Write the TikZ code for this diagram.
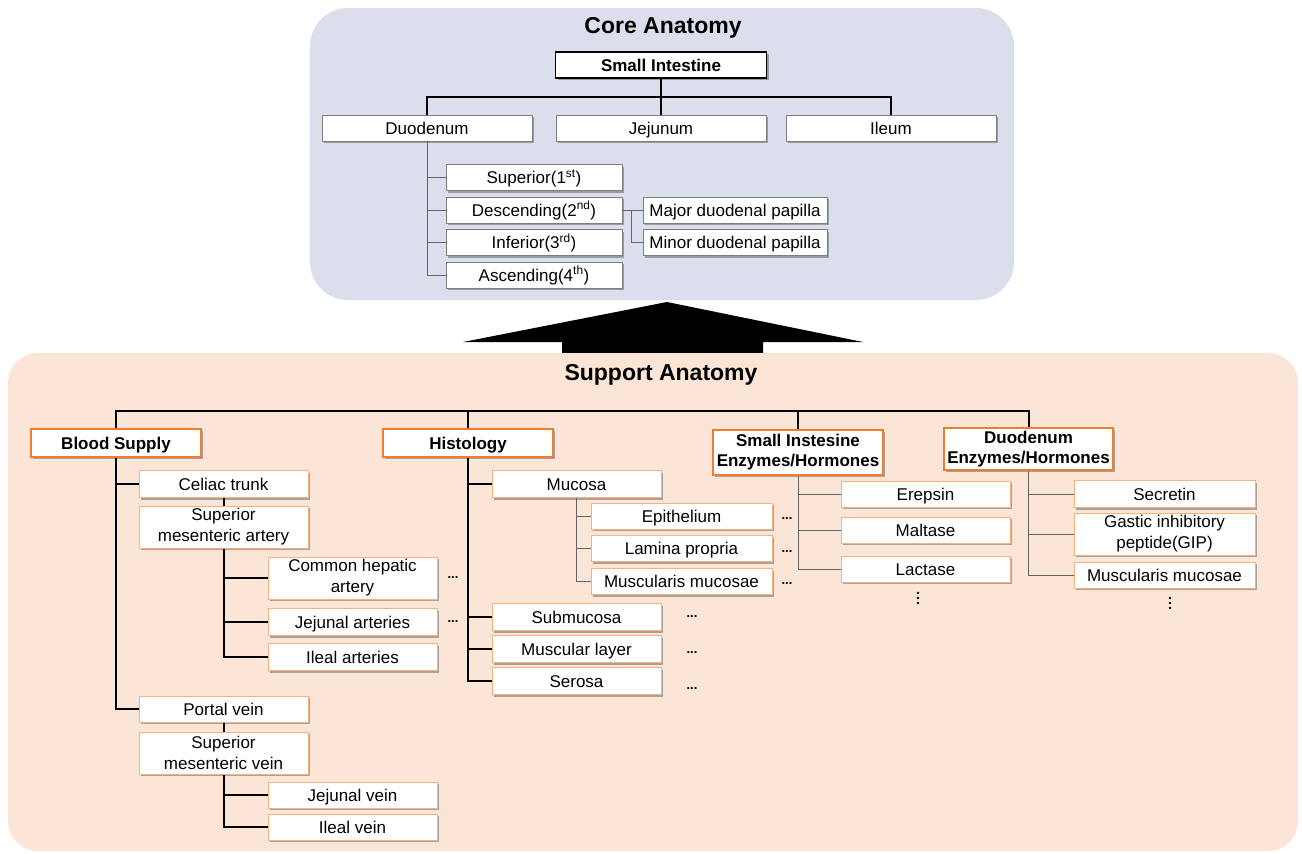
\documentclass[tikz,border=0pt]{standalone}
\usepackage{fontspec}
\setmainfont{Liberation Sans}
\usetikzlibrary{shadows,calc}
\definecolor{corebg}{RGB}{218,223,235}
\definecolor{suppbg}{RGB}{251,229,214}
\definecolor{hdrorange}{RGB}{237,125,49}
\definecolor{lightorange}{RGB}{244,177,131}
\definecolor{boxgray}{RGB}{127,127,127}
\definecolor{thingray}{RGB}{100,100,100}
\begin{document}
\begin{tikzpicture}[x=1pt,y=-1pt,
  every node/.style={font=\fontsize{17}{21}\selectfont, inner sep=0pt, align=center},
  shad/.style={drop shadow={shadow xshift=2pt,shadow yshift=-2pt,fill=black,opacity=0.3}},
  oneline/.style={text height=12.5pt, text depth=0.5pt},
  twoline/.style={text height=, text depth=},
  cbox/.style={draw=boxgray, line width=0.8pt, fill=white, shad, minimum height=26, oneline},
  sibox/.style={draw=black, line width=1.6pt, fill=white, shad, oneline, font=\bfseries\fontsize{17}{21}\selectfont},
  hbox/.style={draw=hdrorange, line width=2pt, fill=white, shad, font=\bfseries\fontsize{17}{20}\selectfont},
  obox/.style={draw=lightorange, line width=1pt, fill=white, shad, minimum height=27, oneline},
  titlefont/.style={font=\bfseries\fontsize{23}{26}\selectfont},
  mainln/.style={line width=2pt, black},
  subln/.style={line width=0.9pt, thingray},
  dotsn/.style={font=\bfseries\fontsize{13}{13}\selectfont},
  vd/.style={fill=black}
]
\useasboundingbox (0,0) rectangle (1302,854);
\fill[white] (0,0) rectangle (1302,854);

% ---------- Core anatomy ----------
\fill[corebg, rounded corners=38] (310,8) rectangle (1014,300);
\node[titlefont] (coret) at (663,28) {Core Anatomy};
\node[sibox, minimum width=211, minimum height=26] (si) at (661,65) {Small Intestine};
\node[cbox, minimum width=210] (duo) at (427,128) {Duodenum};
\node[cbox, minimum width=210] (jej) at (661,128) {Jejunum};
\node[cbox, minimum width=210] (ile) at (891,128) {Ileum};
\node[cbox, minimum width=176] (sup) at (534,177.5) {Superior(1\textsuperscript{st})};
\node[cbox, minimum width=176] (desc) at (534,210) {Descending(2\textsuperscript{nd})};
\node[cbox, minimum width=176] (inf) at (534,242.5) {Inferior(3\textsuperscript{rd})};
\node[cbox, minimum width=176] (asc) at (534,275) {Ascending(4\textsuperscript{th})};
\node[cbox, minimum width=184] (maj) at (735,210) {Major duodenal papilla};
\node[cbox, minimum width=184] (min) at (735,242.5) {Minor duodenal papilla};

\coordinate (tb) at (0,97);
\draw[mainln] (si.south) -- (jej.north);
\draw[mainln] (duo.north) |- (ile.north |- tb) -- (ile.north);
\draw[subln] (duo.south) |- (asc.west);
\draw[subln] (sup.west) -- (sup.west -| duo.south);
\draw[subln] (desc.west) -- (desc.west -| duo.south);
\draw[subln] (inf.west) -- (inf.west -| duo.south);
\draw[subln] (desc.east) -- (maj.west);
\draw[subln] ($(desc.east)!0.45!(maj.west)$) |- (min.west);

% ---------- Arrow ----------
\fill[black] (667,302) -- (863,342) -- (763,342) -- (763,354) -- (562,354) -- (562,342) -- (463,342) -- cycle;

% ---------- Support anatomy ----------
\fill[suppbg, rounded corners=30] (8,353) rectangle (1298,851);
\node[titlefont] (supt) at (661,375) {Support Anatomy};

\node[hbox, minimum width=170, minimum height=28, oneline] (bs) at (116,443) {Blood Supply};
\node[hbox, minimum width=170, minimum height=28, oneline] (hist) at (468,443) {Histology};
\node[hbox, minimum width=170, minimum height=45] (sie) at (798,452) {Small Instesine\\Enzymes/Hormones};
\node[hbox, minimum width=169, minimum height=42] (de) at (1028.5,449) {Duodenum\\Enzymes/Hormones};

\coordinate (bb) at (0,411);
\draw[mainln] (bs.north) |- (de.north |- bb) -- (de.north);
\draw[mainln] (hist.north) -- (hist.north |- bb);
\draw[mainln] (sie.north) -- (sie.north |- bb);

% Blood supply
\node[obox, minimum width=169] (cel) at (223.5,484) {Celiac trunk};
\node[obox, twoline, minimum width=169, minimum height=42] (sma) at (223.5,527) {Superior\\mesenteric artery};
\node[obox, twoline, minimum width=169, minimum height=42] (cha) at (352.5,578) {Common hepatic\\artery};
\node[obox, minimum width=169] (jeja) at (352.5,622) {Jejunal arteries};
\node[obox, minimum width=169] (ilea) at (352.5,657) {Ileal arteries};
\node[obox, minimum width=169, minimum height=26] (pv) at (223.5,709) {Portal vein};
\node[obox, twoline, minimum width=169, minimum height=42] (smv) at (223.5,753) {Superior\\mesenteric vein};
\node[obox, minimum width=169, minimum height=26] (jejv) at (352.5,795) {Jejunal vein};
\node[obox, minimum width=169, minimum height=26] (ilev) at (352.5,827) {Ileal vein};
\node[dotsn] (d1) at (453,578) {...};
\node[dotsn] (d2) at (453,622) {...};

\draw[mainln] (bs.south) |- (pv.west);
\draw[mainln] (cel.west) -- (cel.west -| bs.south);
\draw[mainln] (cel.south) -- (sma.north);
\draw[mainln] (sma.south) |- (ilea.west);
\draw[mainln] (cha.west) -- (cha.west -| sma.south);
\draw[mainln] (jeja.west) -- (jeja.west -| sma.south);
\draw[mainln] (pv.south) -- (smv.north);
\draw[mainln] (smv.south) |- (ilev.west);
\draw[mainln] (jejv.west) -- (jejv.west -| smv.south);

% Histology
\node[obox, minimum width=169] (muc) at (576.5,484) {Mucosa};
\node[obox, minimum width=181, minimum height=26] (epi) at (681.5,516) {Epithelium};
\node[obox, minimum width=181, minimum height=26] (lam) at (681.5,548.5) {Lamina propria};
\node[obox, minimum width=181, minimum height=26] (mm) at (681.5,581.5) {Muscularis mucosae};
\node[obox, minimum width=169] (subm) at (576.5,617) {Submucosa};
\node[obox, minimum width=169] (musl) at (576.5,649) {Muscular layer};
\node[obox, minimum width=169] (ser) at (576.5,681) {Serosa};
\node[dotsn] (d3) at (787,519) {...};
\node[dotsn] (d4) at (787,552) {...};
\node[dotsn] (d5) at (787,584) {...};
\node[dotsn] (d6) at (692,617) {...};
\node[dotsn] (d7) at (692,653) {...};
\node[dotsn] (d8) at (692,689) {...};

\draw[mainln] (hist.south) |- (ser.west);
\draw[mainln] (muc.west) -- (muc.west -| hist.south);
\draw[mainln] (subm.west) -- (subm.west -| hist.south);
\draw[mainln] (musl.west) -- (musl.west -| hist.south);
\draw[subln] (muc.south) |- (mm.west);
\draw[subln] (epi.west) -- (epi.west -| muc.south);
\draw[subln] (lam.west) -- (lam.west -| muc.south);

% Small intestine enzymes
\node[obox, minimum width=169, minimum height=26] (ere) at (925.5,494) {Erepsin};
\node[obox, minimum width=169, minimum height=26] (mal) at (925.5,530) {Maltase};
\node[obox, minimum width=169, minimum height=26] (lac) at (925.5,569) {Lactase};
\fill[vd] (918,593) circle (1.3) (918,598) circle (1.3) (918,603) circle (1.3);
\draw[subln] (sie.south) |- (lac.west);
\draw[subln] (ere.west) -- (ere.west -| sie.south);
\draw[subln] (mal.west) -- (mal.west -| sie.south);

% Duodenum enzymes
\node[obox, minimum width=181] (sec) at (1164.5,494) {Secretin};
\node[obox, twoline, minimum width=181, minimum height=42] (gip) at (1164.5,534) {Gastic inhibitory\\peptide(GIP)};
\node[obox, minimum width=181, minimum height=26] (mm2) at (1164.5,575) {Muscularis mucosae};
\fill[vd] (1170,598) circle (1.3) (1170,603) circle (1.3) (1170,608) circle (1.3);
\draw[subln] (de.south) |- (mm2.west);
\draw[subln] (sec.west) -- (sec.west -| de.south);
\draw[subln] (gip.west) -- (gip.west -| de.south);
\end{tikzpicture}
\end{document}
